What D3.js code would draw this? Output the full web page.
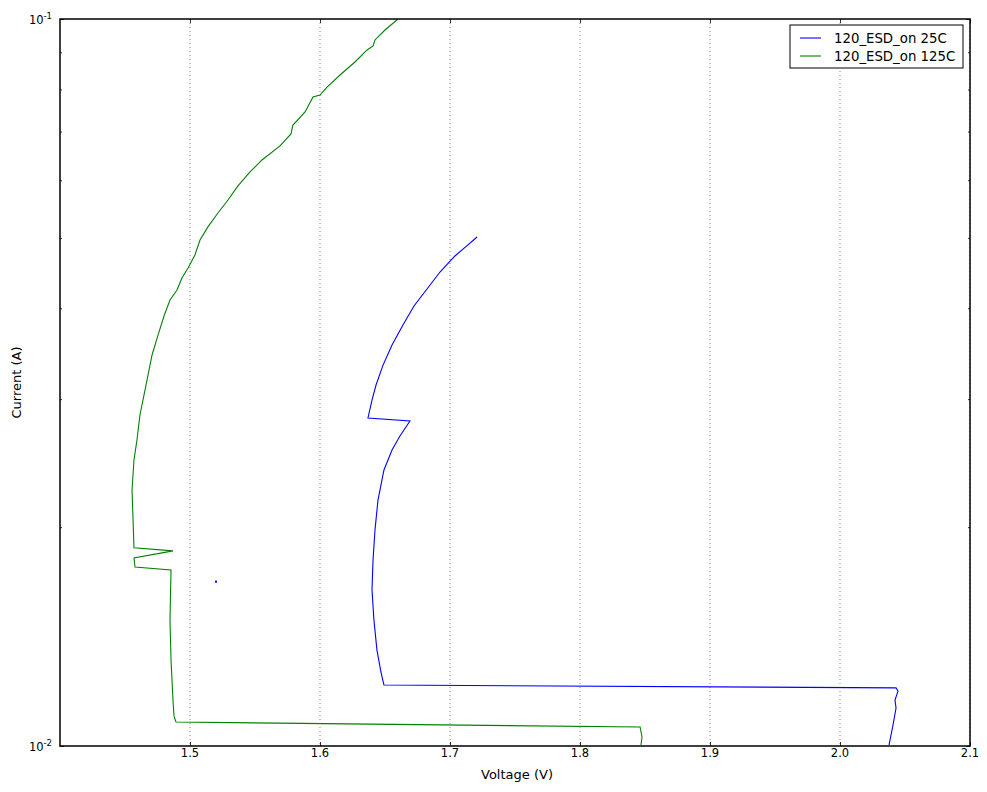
<!DOCTYPE html>
<html>
<head>
<meta charset="utf-8">
<script src="https://cdnjs.cloudflare.com/ajax/libs/d3/7.8.5/d3.min.js"></script>
<style>
	body { margin: 0; background: #fff; }
	text { font-family: "DejaVu Sans", sans-serif; font-size: 11.5px; fill: #000; }
	.axlabel { font-size: 13px; }
	.legtext { font-size: 13.3px; }
</style>
</head>
<body>
<div id="chart-area"></div>
<script>

// SVG Size
var width = 987,
	height = 792;

var margin = {top: 19, right: 17, bottom: 46, left: 60};

// Series names
var seriesNames = ["120_ESD_on 25C", "120_ESD_on 125C"];
var seriesColors = ["#0000ff", "#008000"];

// 25C curve (voltage, current)
var volt25 = [2.0377, 2.0408, 2.0431, 2.0423, 2.0446, 2.0431, 1.6492, 1.6469, 1.6438, 1.6415,
	1.6400, 1.6408, 1.6423, 1.6446, 1.6492, 1.6554, 1.6615, 1.6692, 1.6369, 1.6400,
	1.6431, 1.6485, 1.6554, 1.6638, 1.6723, 1.6823, 1.6923, 1.7038, 1.7138, 1.7208];
var curr25 = [0.01003, 0.01069, 0.01128, 0.01157, 0.01190, 0.01202, 0.01213, 0.01264, 0.01355, 0.01490,
	0.01639, 0.01803, 0.01982, 0.02179, 0.02397, 0.02554, 0.02669, 0.02799, 0.02826, 0.02991,
	0.03137, 0.03341, 0.03562, 0.03794, 0.04029, 0.04252, 0.04487, 0.04721, 0.04889, 0.05013];

// lone 25C point
var volt25dot = [1.5200];
var curr25dot = [0.01683];

// 125C curve (voltage, current)
var volt125 = [1.8469, 1.8477, 1.8462, 1.4892, 1.4877, 1.4869, 1.4854, 1.4846, 1.4854, 1.4577,
	1.4569, 1.4869, 1.4569, 1.4562, 1.4554, 1.4569, 1.4592, 1.4615, 1.4646, 1.4677,
	1.4708, 1.4754, 1.4800, 1.4846, 1.4900, 1.4938, 1.4985, 1.5038, 1.5077, 1.5138,
	1.5215, 1.5292, 1.5369, 1.5462, 1.5554, 1.5692, 1.5777, 1.5792, 1.5885, 1.5946,
	1.6000, 1.6054, 1.6154, 1.6269, 1.6362, 1.6408, 1.6423, 1.6500, 1.6600];
var curr125 = [0.01003, 0.01029, 0.01062, 0.01079, 0.01100, 0.01157, 0.01313, 0.01490, 0.01746, 0.01763,
	0.01814, 0.01855, 0.01873, 0.02046, 0.02250, 0.02474, 0.02636, 0.02853, 0.03039, 0.03238,
	0.03450, 0.03675, 0.03904, 0.04107, 0.04239, 0.04403, 0.04545, 0.04737, 0.04966, 0.05176,
	0.05410, 0.05637, 0.05893, 0.06160, 0.06399, 0.06689, 0.06948, 0.07148, 0.07450, 0.07811,
	0.07860, 0.08062, 0.08375, 0.08727, 0.09066, 0.09182, 0.09357, 0.09657, 0.10000];

// Axis ticks
var xTicks = [1.5, 1.6, 1.7, 1.8, 1.9, 2.0, 2.1];
var xTickLabels = ["1.5", "1.6", "1.7", "1.8", "1.9", "2.0", "2.1"];
var yMajor = [0.01, 0.1];
var yMajorExp = ["-2", "-1"];
var yMinor = [0.02, 0.03, 0.04, 0.05, 0.06, 0.07, 0.08, 0.09];

var w = width - margin.left - margin.right,
	h = height - margin.top - margin.bottom;

var svg = d3.select("#chart-area")
	.append("svg")
	.attr("width", width)
	.attr("height", height);

var g = svg.append("g")
	.attr("transform", "translate(" + margin.left + "," + margin.top + ")");

var x = d3.scaleLinear().domain([1.4, 2.1]).range([0, w]);
var y = d3.scaleLog().domain([0.01, 0.1]).range([h, 0]);

g.append("defs").append("clipPath").attr("id", "clip")
	.append("rect").attr("width", w).attr("height", h);

// dotted vertical grid
g.selectAll(".grid").data(xTicks).enter()
	.append("line")
	.attr("class", "grid")
	.attr("x1", function (d) {return x(d)})
	.attr("x2", function (d) {return x(d)})
	.attr("y1", 0).attr("y2", h)
	.attr("stroke", "#888")
	.attr("stroke-width", 1)
	.attr("stroke-dasharray", "1,3");

// curves
var line = d3.line()
	.x(function (d) {return x(d[0])})
	.y(function (d) {return y(d[1])});

var data25 = d3.zip(volt25, curr25);
var data125 = d3.zip(volt125, curr125);

g.append("path").datum(data125)
	.attr("d", line)
	.attr("clip-path", "url(#clip)")
	.attr("fill", "none")
	.attr("stroke", seriesColors[1])
	.attr("stroke-width", 1.1);

g.append("path").datum(data25)
	.attr("d", line)
	.attr("clip-path", "url(#clip)")
	.attr("fill", "none")
	.attr("stroke", seriesColors[0])
	.attr("stroke-width", 1.1);

g.selectAll(".dot").data(d3.zip(volt25dot, curr25dot)).enter()
	.append("rect")
	.attr("class", "dot")
	.attr("x", function (d) {return x(d[0]) - 1})
	.attr("y", function (d) {return y(d[1]) - 1})
	.attr("width", 2).attr("height", 2)
	.attr("fill", seriesColors[0]);

// ticks, inward on all four sides
var xAxisB = d3.axisBottom(x).tickValues(xTicks).tickSize(-4).tickFormat("");
var xAxisT = d3.axisTop(x).tickValues(xTicks).tickSize(-4).tickFormat("");
g.append("g").attr("transform", "translate(0," + h + ")").call(xAxisB);
g.append("g").call(xAxisT);

var yAxisL = d3.axisLeft(y).tickValues(yMajor.concat(yMinor))
	.tickSize(0).tickFormat("");
var yl = g.append("g").call(yAxisL);
var yr = g.append("g").attr("transform", "translate(" + w + ",0)").call(yAxisL);

[yl, yr].forEach(function (ax, i) {
	var dir = i === 0 ? 1 : -1;
	ax.selectAll(".tick line")
		.attr("x2", function (d) {return (yMajor.includes(d) ? 4 : 2) * dir});
});

svg.selectAll(".domain").remove();
svg.selectAll(".tick line").attr("stroke", "#000").attr("stroke-width", 0.8);

// frame
g.append("rect")
	.attr("width", w).attr("height", h)
	.attr("fill", "none")
	.attr("stroke", "#000")
	.attr("stroke-width", 1.5);

// tick labels
g.selectAll(".xlab").data(xTicks).enter()
	.append("text")
	.attr("x", function (d) {return x(d)})
	.attr("y", h + 11)
	.attr("text-anchor", "middle")
	.text(function (d, i) {return xTickLabels[i]});

var ylab = g.selectAll(".ylab").data(yMajor).enter()
	.append("text")
	.attr("x", -8)
	.attr("y", function (d) {return y(d) + 5})
	.attr("text-anchor", "end");
ylab.append("tspan").text("10");
ylab.append("tspan").attr("dy", -5).attr("font-size", "8.5px")
	.text(function (d, i) {return yMajorExp[i]});

// axis labels
g.append("text")
	.attr("class", "axlabel")
	.attr("x", w / 2 + 2).attr("y", h + 33)
	.attr("text-anchor", "middle")
	.text("Voltage (V)");

g.append("text")
	.attr("class", "axlabel")
	.attr("transform", "translate(-39," + (h / 2) + ") rotate(-90)")
	.attr("text-anchor", "middle")
	.text("Current (A)");

// legend
var legend = svg.append("g").attr("transform", "translate(790,25)");
legend.append("rect")
	.attr("width", 173).attr("height", 43)
	.attr("fill", "#fff")
	.attr("stroke", "#000")
	.attr("stroke-width", 1);

seriesNames.forEach(function (name, i) {
	legend.append("line")
		.attr("x1", 10).attr("x2", 31)
		.attr("y1", 13 + i * 18).attr("y2", 13 + i * 18)
		.attr("stroke", seriesColors[i])
		.attr("stroke-width", 1.1);
	legend.append("text")
		.attr("class", "legtext")
		.attr("x", 44).attr("y", 17.5 + i * 18)
		.text(name);
});

</script>
</body>
</html>
